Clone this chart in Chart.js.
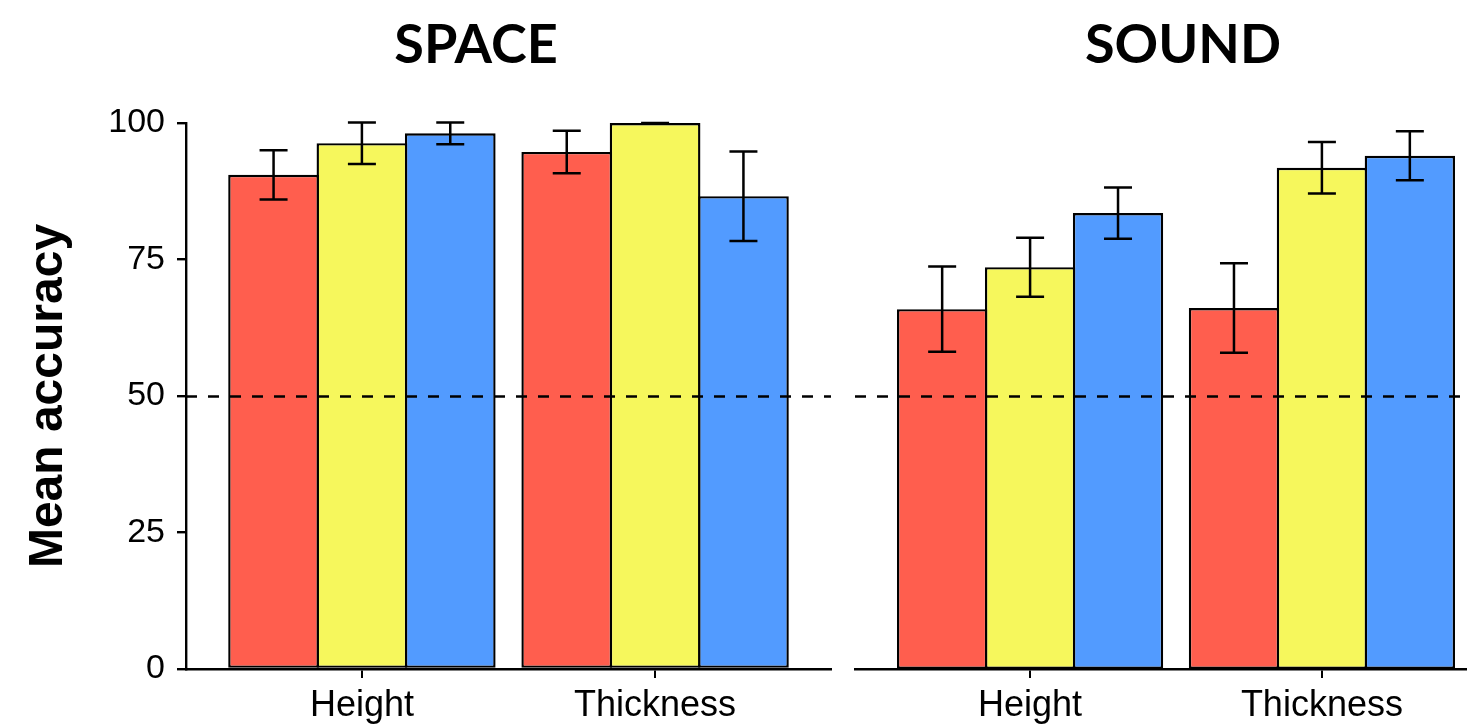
<!DOCTYPE html>
<html>
<head>
<meta charset="utf-8">
<script src="https://cdn.jsdelivr.net/npm/chart.js@4"></script>
<style>
  html, body { margin: 0; padding: 0; background: #fff; overflow: hidden; }
  #wrap { position: relative; width: 1467px; height: 724px; overflow: hidden; }
  canvas { position: absolute; top: 0; }
  #spaceChart { left: 0; }
  #soundChart { left: 845px; }
</style>
</head>
<body>
<div id="wrap">
  <canvas id="spaceChart" width="845" height="724"></canvas>
  <canvas id="soundChart" width="660" height="724"></canvas>
</div>
<script>
const categories = ['Height', 'Thickness'];
const seriesNames = ['Red', 'Yellow', 'Blue'];
const seriesColors = ['#ff5e4e', '#f6f75c', '#529bff'];
const yTicks = [0, 25, 50, 75, 100];
const chanceLevel = 50;

// SPACE panel: means and error half-widths
const spaceRed = [90.5, 94.7];
const spaceYellow = [96.3, 100];
const spaceBlue = [98.1, 86.6];
const spaceRedErr = [4.5, 3.9];
const spaceYellowErr = [3.8, 0];
const spaceBlueErr = [2.0, 8.2];

// SOUND panel
const soundRed = [65.9, 66.1];
const soundYellow = [73.6, 91.8];
const soundBlue = [83.5, 94.0];
const soundRedErr = [7.8, 8.2];
const soundYellowErr = [5.4, 4.7];
const soundBlueErr = [4.7, 4.5];

const tickFont = 'Liberation Sans';

function makeDatasets(means, errs) {
    return means.map((vals, s) => ({
        label: seriesNames[s],
        data: vals.map((v, i) => ({ x: i + 1, y: v, err: errs[s][i] })),
        backgroundColor: seriesColors[s],
        borderColor: '#000',
        borderWidth: 2.4,
        borderSkipped: false,
        categoryPercentage: 0.904,
        barPercentage: 1.027,
        clip: false
    }));
}

// dashed chance line at 50
const chanceLine = {
    id: 'chanceLine',
    afterDatasetsDraw(chart) {
        const { ctx, chartArea, scales: { y } } = chart;
        const py = Math.round(y.getPixelForValue(chanceLevel)) + 0.5;
        ctx.save();
        ctx.strokeStyle = '#000';
        ctx.lineWidth = 2.4;
        ctx.setLineDash([11, 11]);
        ctx.beginPath();
        ctx.moveTo(chartArea.left, py);
        ctx.lineTo(chartArea.right, py);
        ctx.stroke();
        ctx.restore();
    }
};

// error bars with caps
const errorBars = {
    id: 'errorBars',
    afterDatasetsDraw(chart) {
        const { ctx, scales: { y } } = chart;
        const half = 14;
        ctx.save();
        ctx.strokeStyle = '#000';
        ctx.lineWidth = 2.5;
        chart.data.datasets.forEach((ds, s) => {
            chart.getDatasetMeta(s).data.forEach((bar, i) => {
                const pt = ds.data[i];
                const top = y.getPixelForValue(pt.y + pt.err);
                const bot = y.getPixelForValue(pt.y - pt.err);
                ctx.beginPath();
                ctx.moveTo(bar.x, top); ctx.lineTo(bar.x, bot);
                ctx.moveTo(bar.x - half, top); ctx.lineTo(bar.x + half, top);
                ctx.moveTo(bar.x - half, bot); ctx.lineTo(bar.x + half, bot);
                ctx.stroke();
            });
        });
        ctx.restore();
    }
};

// panel heading
const panelTitle = {
    id: 'panelTitle',
    afterDraw(chart, args, opts) {
        const ctx = chart.ctx;
        ctx.save();
        ctx.fillStyle = '#000';
        ctx.font = 'bold 54px Lato';
        ctx.textAlign = 'center';
        ctx.textBaseline = 'alphabetic';
        ctx.fillText(opts.text, opts.x, 63);
        ctx.restore();
    }
};

function xScale() {
    return {
        type: 'linear',
        min: 0.4,
        max: 2.6,
        offset: false,
        afterBuildTicks: s => { s.ticks = categories.map((c, i) => ({ value: i + 1 })); },
        afterFit: s => { s.height = 55; },
        border: { display: true, color: '#000', width: 2.4 },
        grid: { offset: false, drawOnChartArea: false, drawTicks: true, tickLength: 9, color: '#000', lineWidth: 2 },
        ticks: {
            color: '#000',
            font: { family: tickFont, size: 36 },
            padding: 6,
            autoSkip: false,
            maxRotation: 0,
            callback: v => categories[v - 1]
        }
    };
}

function yScale(showY) {
    const scale = {
        display: showY,
        min: 0,
        max: 100,
        afterBuildTicks: s => { s.ticks = yTicks.map(v => ({ value: v })); },
        border: { display: true, color: '#000', width: 2.4 },
        grid: { drawOnChartArea: false, drawTicks: true, tickLength: 9, color: '#000', lineWidth: 2.4 },
        ticks: { color: '#000', font: { family: tickFont, size: 34 }, padding: 12 },
        title: {
            display: true,
            text: 'Mean accuracy',
            color: '#000',
            font: { family: tickFont, size: 48, weight: 'bold' },
            padding: { top: 20, bottom: 0 }
        }
    };
    if (showY) scale.afterFit = s => { s.width = 186; };
    return scale;
}

function makeChart(id, datasets, title, titleX, showY, padding) {
    return new Chart(document.getElementById(id), {
        type: 'bar',
        data: { datasets: datasets },
        options: {
            responsive: false,
            animation: false,
            layout: { padding: padding },
            plugins: {
                legend: { display: false },
                tooltip: { enabled: false },
                panelTitle: { text: title, x: titleX }
            },
            scales: {
                x: xScale(),
                y: yScale(showY)
            }
        },
        plugins: [chanceLine, errorBars, panelTitle]
    });
}

makeChart('spaceChart',
    makeDatasets([spaceRed, spaceYellow, spaceBlue], [spaceRedErr, spaceYellowErr, spaceBlueErr]),
    'SPACE', 476, true, { top: 123, left: 0, right: 14, bottom: 0 });

makeChart('soundChart',
    makeDatasets([soundRed, soundYellow, soundBlue], [soundRedErr, soundYellowErr, soundBlueErr]),
    'SOUND', 338, false, { top: 123, left: 10, right: 8, bottom: 0 });
</script>
</body>
</html>
